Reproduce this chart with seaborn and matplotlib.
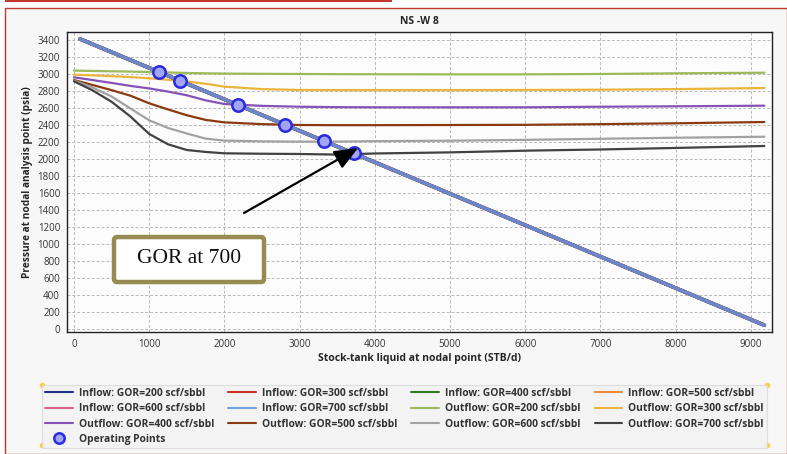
import matplotlib
matplotlib.use("Agg")
import matplotlib.pyplot as plt
import seaborn as sns
import pandas as pd
from matplotlib.lines import Line2D
from matplotlib.patches import Rectangle, FancyBboxPatch

# ---------------- data ----------------
gor_values = [200, 300, 400, 500, 600, 700]

inflow_q = [80, 1000, 2000, 3000, 4000, 5000, 6000, 7000, 8000, 9180]
inflow_p = [3412, 3072, 2702, 2332, 1962, 1592, 1222, 852, 482, 45]

outflow_q = [0, 250, 500, 750, 1000, 1250, 1500, 1750, 2000, 2500, 3000,
             3500, 4000, 5000, 6000, 7000, 8000, 9180]
outflow_p200 = [3040, 3036, 3032, 3028, 3024, 3018, 3012, 3008, 3005, 3002, 3000,
                2998, 2997, 2996, 2996, 3000, 3008, 3015]
outflow_p300 = [2992, 2984, 2974, 2964, 2950, 2932, 2912, 2885, 2851, 2822, 2812,
                2810, 2810, 2810, 2812, 2815, 2822, 2835]
outflow_p400 = [2961, 2928, 2895, 2860, 2830, 2793, 2750, 2690, 2647, 2625, 2615,
                2610, 2608, 2608, 2608, 2615, 2620, 2627]
outflow_p500 = [2929, 2870, 2810, 2745, 2655, 2583, 2515, 2460, 2431, 2410, 2400,
                2398, 2398, 2400, 2402, 2410, 2420, 2435]
outflow_p600 = [2922, 2840, 2735, 2595, 2455, 2365, 2300, 2240, 2216, 2208, 2204,
                2205, 2210, 2215, 2225, 2238, 2250, 2262]
outflow_p700 = [2914, 2806, 2673, 2500, 2295, 2173, 2106, 2083, 2067, 2062, 2059,
                2052, 2065, 2078, 2098, 2112, 2130, 2153]

op_q = [1133, 1416, 2178, 2809, 3320, 3723]
op_p = [3020, 2918, 2638, 2402, 2213, 2068]

x_ticks = list(range(0, 10000, 1000))
y_ticks = list(range(0, 3600, 200))

inflow_colors = ["#1f2f8a", "#c8302a", "#2d7d1e", "#f08a3c", "#d8658a", "#70a2e4"]
outflow_colors = ["#9bbb59", "#ebb43a", "#8552b8", "#8b3a0f", "#a2a2a2", "#424242"]
outflow_sets = [outflow_p200, outflow_p300, outflow_p400,
                outflow_p500, outflow_p600, outflow_p700]

annotation_text = "GOR at 700"

# ---------------- figure ----------------
sns.set_theme(style="white")
plt.rcParams["font.family"] = ["Open Sans", "DejaVu Sans"]

fig = plt.figure(figsize=(7.87, 4.54), dpi=100)
fig.patch.set_facecolor("white")
W, H = 787, 454
fig.add_artist(Rectangle((5 / W, 0), 1 - 5 / W, 1 - 8 / H, transform=fig.transFigure,
                         facecolor="#f7f7f7", edgecolor="#c0392b", lw=1.0, zorder=-10))
fig.add_artist(Rectangle((5 / W, 1 - 2 / H), 387 / W, 2 / H, transform=fig.transFigure,
                         facecolor="#c0392b", edgecolor="none", zorder=-9))

ax = fig.add_axes([67 / W, 1 - 332 / H, (772 - 67) / W, (332 - 32) / H])
ax.set_facecolor("#fcfcfc")

handles = {}
# overlapping inflow curves: stacking gives the blended periwinkle tone
inflow_style = {200: (3.00, 1.0), 300: (2.90, 1.0), 400: (2.91, 1.0),
                500: (2.92, 1.0), 600: (3.10, 0.35), 700: (3.20, 0.72)}
for g, c in zip(gor_values, inflow_colors):
    df = pd.DataFrame({"q": inflow_q, "p": inflow_p})
    z, a = inflow_style[g]
    sns.lineplot(data=df, x="q", y="p", ax=ax, color=c, lw=2.6, alpha=a,
                 zorder=z, legend=False)
    handles[("in", g)] = Line2D([], [], color=c, lw=1.5)

for g, c, vals in zip(gor_values, outflow_colors, outflow_sets):
    df = pd.DataFrame({"q": outflow_q, "p": vals})
    sns.lineplot(data=df, x="q", y="p", ax=ax, color=c, lw=1.6, zorder=2, legend=False)
    handles[("out", g)] = Line2D([], [], color=c, lw=1.5)

dfop = pd.DataFrame({"q": op_q, "p": op_p})
sns.scatterplot(data=dfop, x="q", y="p", ax=ax, s=80, color="#a0a6f4",
                edgecolor="#2a2ae0", linewidth=1.8, zorder=5, legend=False)
handles["op"] = Line2D([], [], marker="o", ls="none", markersize=7.5,
                       markerfacecolor="#a0a6f4", markeredgecolor="#2a2ae0",
                       markeredgewidth=1.8)

ax.set_xlim(-93, 9282)
ax.set_ylim(-35, 3494)
ax.set_xticks(x_ticks)
ax.set_yticks(y_ticks)
ax.tick_params(axis="both", labelsize=7, colors="#333333", length=4,
               width=0.6, direction="out", pad=1)
for t in ax.get_xticklabels() + ax.get_yticklabels():
    t.set_color("#333333")
ax.grid(True, ls=(0, (3, 2)), color="#b8b8b8", lw=0.7)
for s in ax.spines.values():
    s.set_color("#222222")
    s.set_linewidth(1.0)
ax.set_xlabel("Stock-tank liquid at nodal point (STB/d)", fontsize=7.5,
              fontweight="bold", labelpad=2)
ax.set_ylabel("Pressure at nodal analysis point (psia)", fontsize=7.3,
              fontweight="bold", labelpad=3)
ax.set_title("NS -W 8", fontsize=7.5, fontweight="bold", pad=6)

# annotation arrow and box
ax.annotate("", xy=(3777, 2129), xytext=(2261, 1365),
            arrowprops=dict(arrowstyle="-|>,head_length=1.2,head_width=0.5",
                            color="black", lw=1.6, shrinkA=0, shrinkB=0),
            zorder=6)
box = FancyBboxPatch((532, 553), 2527 - 532, 1082 - 553,
                     boxstyle="round,pad=0,rounding_size=40",
                     mutation_aspect=1.0, facecolor="white", edgecolor="#978a52",
                     lw=3.2, zorder=7)
ax.add_patch(box)
ax.text((532 + 2527) / 2, (553 + 1082) / 2 + 10, annotation_text, fontsize=15.5,
        family=["Liberation Serif", "DejaVu Serif"], ha="center", va="center",
        zorder=8, color="#111111")

# legend (row-major order in 4 columns)
order = [("in", 200), ("in", 600), ("out", 400), "op",
         ("in", 300), ("in", 700), ("out", 500),
         ("in", 400), ("out", 200), ("out", 600),
         ("in", 500), ("out", 300), ("out", 700)]
def lab(k):
    if k == "op":
        return "Operating Points"
    kind, g = k
    return f"{'Inflow' if kind == 'in' else 'Outflow'}: GOR={g} scf/sbbl"
leg = fig.legend([handles[k] for k in order], [lab(k) for k in order],
                 ncol=4, loc="upper left",
                 bbox_to_anchor=(42 / W, 1 - 445 / H, (767 - 42) / W, 60 / H),
                 mode="expand", frameon=True,
                 prop={"size": 7.4, "weight": "bold"}, handlelength=2.7,
                 handletextpad=0.6, labelspacing=0.42, borderpad=0.3,
                 borderaxespad=0, columnspacing=0.4, fancybox=False)
for t in leg.get_texts():
    t.set_color("#333333")
leg.get_frame().set_facecolor("#f2f2f2")
leg.get_frame().set_edgecolor("#d8d8d8")
leg.get_frame().set_linewidth(0.8)

for (px, py) in [(42, 385), (767, 385), (42, 445), (767, 445)]:
    fig.add_artist(Line2D([px / W], [1 - py / H], marker="o", markersize=3,
                          color="#f5d142", transform=fig.transFigure, ls="none"))

fig.savefig("out.png", dpi=100, facecolor=fig.get_facecolor())
